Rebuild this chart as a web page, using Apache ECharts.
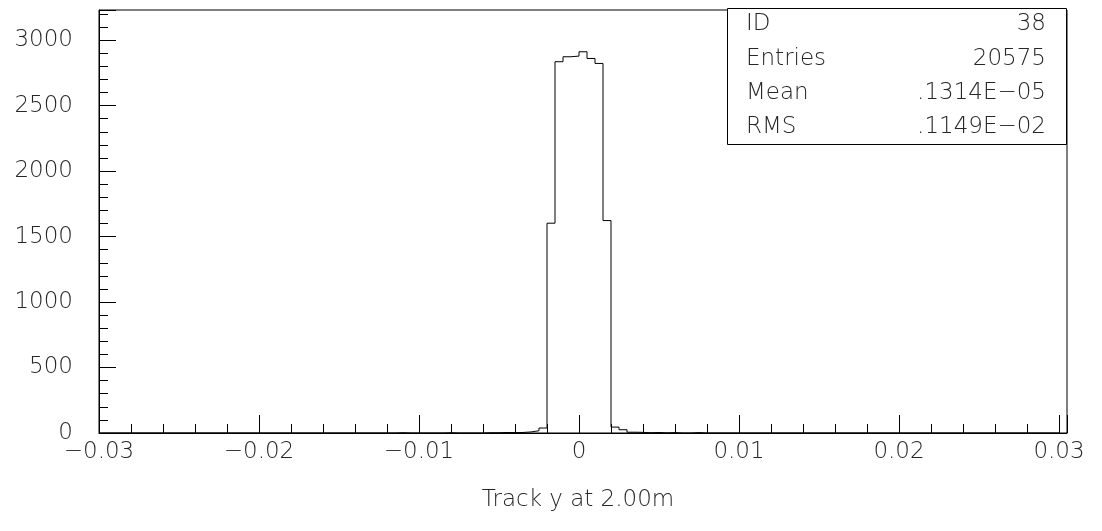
<!DOCTYPE html>
<html>
<head>
<meta charset="utf-8">
<script src="https://cdn.jsdelivr.net/npm/echarts@6/dist/echarts.min.js"></script>
<style>
  html, body { margin: 0; padding: 0; background: #fff; }
  #chart { width: 1102px; height: 531px; }
</style>
</head>
<body>
<div id="chart"></div>
<script>
// histogram: 120 bins of 0.0005 starting at -0.03
const binLo = -0.03
const binWidth = 0.0005
const counts = [
  0, 0, 0, 0, 0, 0, 0, 0, 0, 0, 0, 0, 0, 0, 0, 0, 0, 0, 0, 0,
  0, 0, 0, 0, 0, 0, 0, 0, 0, 0, 0, 0, 0, 0, 0, 0, 0, 2, 0, 0,
  0, 0, 0, 2, 0, 0, 0, 0, 2, 2, 4, 3, 4, 8, 17, 38,
  1602, 2835, 2873, 2878, 2911, 2860, 2822, 1622,
  45, 25, 6, 5, 2, 4, 1, 3, 0, 0, 3, 0, 0, 0, 0, 0,
  0, 0, 0, 0, 0, 0, 0, 0, 0, 0, 0, 0, 0, 0, 0, 0, 0, 0, 0, 0,
  0, 0, 0, 0, 0, 0, 0, 0, 0, 0, 0, 0, 0, 0, 0, 0, 0, 0, 0, 0
]
const xTicks = [-0.03, -0.02, -0.01, 0, 0.01, 0.02, 0.03]
const yTicks = [0, 500, 1000, 1500, 2000, 2500, 3000]
const statLabels = ['ID', 'Entries', 'Mean', 'RMS']
const statValues = ['38', '20575', '.1314E\u221205', '.1149E\u221202']
const xTitle = 'Track y at 2.00m'

const font = 'DejaVu Sans'
const fontSize = 23
const textColor = '#262626'

// step outline points at bin edges
const points = counts.map((c, i) => [binLo + i * binWidth, c])
points.push([binLo + counts.length * binWidth, counts[counts.length - 1]])

const chart = echarts.init(document.getElementById('chart'))

const textStyle = (text, align) => ({
  text, fontFamily: font, fontSize, fontWeight: 300, fill: textColor, align, verticalAlign: 'middle'
})

const statGraphics = [
  {
    type: 'rect',
    shape: { x: 727.5, y: 8.5, width: 339, height: 136 },
    style: { fill: '#fff', stroke: '#000', lineWidth: 1 },
    z: 10
  }
]
const rowY = [24, 59, 93, 127]
statLabels.forEach((t, i) => {
  statGraphics.push({ type: 'text', x: 746, y: rowY[i], z: 11, style: textStyle(t, 'left') })
  statGraphics.push({ type: 'text', x: 1046, y: rowY[i], z: 11, style: textStyle(statValues[i], 'right') })
})
statGraphics.push({ type: 'text', x: 578, y: 500, z: 11, style: textStyle(xTitle, 'center') })

const option = {
  animation: false,
  backgroundColor: '#fff',
  grid: {
    left: 99, right: 35, top: 10, bottom: 98,
    show: true, borderColor: '#000', borderWidth: 1, backgroundColor: 'transparent'
  },
  xAxis: {
    type: 'value',
    min: -0.03,
    max: 0.0305,
    interval: 0.01,
    axisLine: { show: true, onZero: false, lineStyle: { color: '#000', width: 1 } },
    axisTick: { show: true, inside: true, length: 18, lineStyle: { color: '#000' } },
    minorTick: { show: true, splitNumber: 5, length: 9, lineStyle: { color: '#000' } },
    splitLine: { show: false },
    axisLabel: {
      margin: 8,
      fontFamily: font, fontSize, fontWeight: 300, color: textColor,
      formatter: v => {
        const r = Math.round(v * 100) / 100
        if (!xTicks.some(t => Math.abs(t - v) < 1e-9)) return ''
        if (r === 0) return '0'
        return (r < 0 ? '\u2212' : '') + Math.abs(r).toFixed(2)
      }
    }
  },
  yAxis: {
    type: 'value',
    min: 0,
    max: 3230,
    interval: 500,
    axisLine: { show: true, onZero: false, lineStyle: { color: '#000', width: 1 } },
    axisTick: { show: true, inside: true, length: 17, lineStyle: { color: '#000' } },
    minorTick: { show: true, splitNumber: 5, length: 9, lineStyle: { color: '#000' } },
    splitLine: { show: false },
    axisLabel: {
      margin: 26,
      fontFamily: font, fontSize, fontWeight: 300, color: textColor,
      formatter: v => (yTicks.includes(v) ? String(v) : '')
    }
  },
  series: [
    {
      type: 'line',
      step: 'end',
      data: points,
      showSymbol: false,
      lineStyle: { color: '#000', width: 1 },
      z: 5
    }
  ],
  graphic: statGraphics
}

chart.setOption(option)
</script>
</body>
</html>
